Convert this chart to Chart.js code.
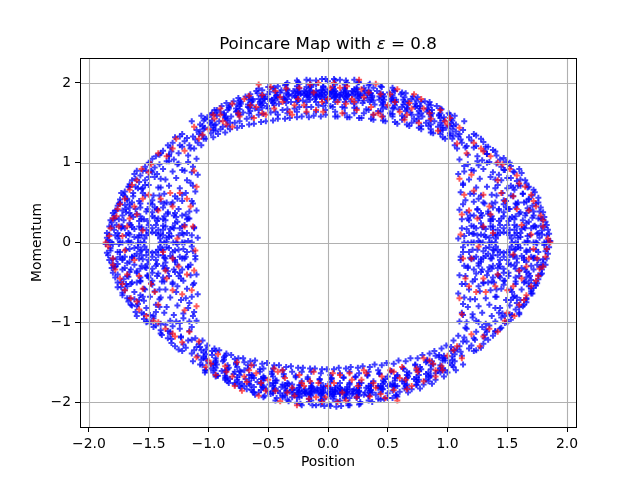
<!DOCTYPE html>
<html>
<head>
<meta charset="utf-8">
<title>Poincare Map</title>
<script src="https://cdn.jsdelivr.net/npm/chart.js@4/dist/chart.umd.min.js"></script>
<style>
  html, body { margin: 0; padding: 0; background: #fff; }
  canvas { display: block; }
</style>
</head>
<body>
<canvas id="poincareChart" width="640" height="480"></canvas>
<script>
// 軸刻度
const xTicks = [-2.0, -1.5, -1.0, -0.5, 0.0, 0.5, 1.0, 1.5, 2.0];
const yTicks = [-2, -1, 0, 1, 2];

// 上方帶狀區 (藍)
const topBandBlue = [
  [-1.12,1.18],[-1.09,1.25],[-1.13,1.33],[-1.1,1.41],[-1.07,1.48],[-1.14,1.52],[-1.08,1.36],[-1.11,1.29],
  [-1.02,1.3],[-0.98,1.37],[-1.03,1.44],[-0.99,1.5],[-1.01,1.57],[-0.97,1.62],[-1.04,1.53],[-0.96,1.41],
  [-0.92,1.36],[-0.88,1.45],[-0.91,1.52],[-0.87,1.6],[-0.93,1.66],[-0.89,1.71],[-0.86,1.56],[-0.94,1.48],
  [-0.82,1.42],[-0.78,1.5],[-0.81,1.58],[-0.77,1.64],[-0.83,1.7],[-0.79,1.77],[-0.76,1.73],[-0.84,1.55],
  [-0.72,1.46],[-0.68,1.55],[-0.71,1.63],[-0.67,1.7],[-0.73,1.76],[-0.69,1.83],[-0.66,1.79],[-0.74,1.67],
  [-0.62,1.49],[-0.58,1.6],[-0.61,1.68],[-0.57,1.74],[-0.63,1.8],[-0.59,1.87],[-0.56,1.84],[-0.64,1.72],[-0.6,1.9],
  [-0.52,1.52],[-0.48,1.63],[-0.51,1.71],[-0.47,1.77],[-0.53,1.82],[-0.49,1.89],[-0.46,1.93],[-0.54,1.75],[-0.5,1.86],
  [-0.42,1.55],[-0.38,1.66],[-0.41,1.74],[-0.37,1.8],[-0.43,1.85],[-0.39,1.91],[-0.36,1.97],[-0.44,1.78],[-0.4,1.88],
  [-0.32,1.56],[-0.28,1.68],[-0.31,1.76],[-0.27,1.82],[-0.33,1.86],[-0.29,1.9],[-0.26,1.96],[-0.34,2.0],[-0.3,1.84],[-0.28,1.88],
  [-0.22,1.58],[-0.18,1.7],[-0.21,1.78],[-0.17,1.83],[-0.23,1.86],[-0.19,1.89],[-0.16,1.93],[-0.24,1.99],[-0.2,1.85],[-0.18,1.87],
  [-0.12,1.59],[-0.08,1.72],[-0.11,1.8],[-0.07,1.84],[-0.13,1.86],[-0.09,1.88],[-0.06,1.91],[-0.14,1.97],[-0.1,2.03],[-0.1,1.85],
  [-0.02,1.6],[0.02,1.71],[-0.01,1.79],[0.03,1.83],[-0.03,1.85],[0.01,1.87],[0.04,1.9],[-0.04,1.95],[0,2.02],[0.02,1.86],
  [0.08,1.58],[0.12,1.7],[0.09,1.79],[0.13,1.84],[0.07,1.86],[0.11,1.88],[0.14,1.92],[0.06,1.98],[0.1,2.04],[0.1,1.85],
  [0.18,1.57],[0.22,1.69],[0.19,1.77],[0.23,1.83],[0.17,1.86],[0.21,1.89],[0.24,1.94],[0.16,2.0],[0.2,1.85],
  [0.28,1.56],[0.32,1.67],[0.29,1.75],[0.33,1.81],[0.27,1.85],[0.31,1.9],[0.34,1.97],[0.26,2.01],[0.3,1.87],
  [0.38,1.54],[0.42,1.65],[0.39,1.73],[0.43,1.79],[0.37,1.84],[0.41,1.9],[0.44,1.96],[0.36,1.87],
  [0.48,1.52],[0.52,1.62],[0.49,1.7],[0.53,1.77],[0.47,1.83],[0.51,1.88],[0.54,1.94],[0.46,1.74],
  [0.58,1.49],[0.62,1.59],[0.59,1.67],[0.63,1.73],[0.57,1.79],[0.61,1.86],[0.64,1.82],[0.56,1.9],
  [0.68,1.46],[0.72,1.55],[0.69,1.63],[0.73,1.7],[0.67,1.77],[0.71,1.83],[0.74,1.78],[0.66,1.67],
  [0.78,1.42],[0.82,1.5],[0.79,1.58],[0.83,1.64],[0.77,1.71],[0.81,1.77],[0.84,1.73],[0.76,1.55],
  [0.88,1.37],[0.92,1.45],[0.89,1.52],[0.93,1.6],[0.87,1.66],[0.91,1.71],[0.94,1.56],[0.86,1.48],
  [0.98,1.3],[1.02,1.37],[0.99,1.44],[1.03,1.5],[0.97,1.57],[1.01,1.62],[1.04,1.53],[0.96,1.41],
  [1.08,1.18],[1.12,1.25],[1.09,1.33],[1.13,1.41],[1.07,1.48],[1.14,1.52],[1.1,1.36],[1.11,1.29],
  [-0.25,1.87],[-0.15,1.88],[-0.05,1.87],[0.05,1.88],[0.15,1.87],[0.25,1.86],[-0.2,1.9],[0,1.89],[0.2,1.9],[-0.1,1.84],[0.1,1.83]
];
const topFillBlue = [
  [-1.06,1.22],[-1.04,1.3],[-1.07,1.39],[-1.05,1.46],[-1.03,1.55],[-1.06,1.59],[-1.05,1.34],[-1.04,1.42],
  [-0.96,1.32],[-0.94,1.4],[-0.95,1.47],[-0.97,1.53],[-0.93,1.59],[-0.95,1.66],[-0.96,1.44],[-0.94,1.62],
  [-0.86,1.38],[-0.84,1.46],[-0.85,1.53],[-0.87,1.62],[-0.83,1.68],[-0.85,1.75],[-0.86,1.58],[-0.84,1.66],
  [-0.76,1.44],[-0.74,1.52],[-0.75,1.6],[-0.77,1.68],[-0.73,1.74],[-0.75,1.81],[-0.76,1.65],[-0.74,1.71],
  [-0.66,1.48],[-0.64,1.57],[-0.65,1.65],[-0.67,1.73],[-0.63,1.78],[-0.65,1.86],[-0.66,1.69],[-0.64,1.76],
  [-0.56,1.51],[-0.54,1.61],[-0.55,1.69],[-0.57,1.76],[-0.53,1.8],[-0.55,1.91],[-0.56,1.72],[-0.54,1.84],[-0.55,1.78],
  [-0.46,1.53],[-0.44,1.64],[-0.45,1.72],[-0.47,1.79],[-0.43,1.83],[-0.45,1.94],[-0.46,1.75],[-0.44,1.88],[-0.45,1.81],
  [-0.36,1.55],[-0.34,1.67],[-0.35,1.75],[-0.37,1.82],[-0.33,1.85],[-0.35,1.98],[-0.36,1.79],[-0.34,1.91],[-0.35,1.87],
  [-0.26,1.57],[-0.24,1.7],[-0.25,1.78],[-0.27,1.84],[-0.23,1.87],[-0.25,2.01],[-0.26,1.81],[-0.24,1.93],[-0.25,1.89],
  [-0.16,1.57],[-0.14,1.7],[-0.15,1.79],[-0.17,1.85],[-0.13,1.88],[-0.15,2.03],[-0.16,1.82],[-0.14,1.95],[-0.15,1.9],
  [-0.06,1.58],[-0.04,1.71],[-0.05,1.8],[-0.07,1.86],[-0.03,1.88],[-0.05,2.05],[-0.06,1.83],[-0.04,1.96],[-0.05,1.91],
  [0.06,1.58],[0.04,1.7],[0.05,1.81],[0.07,1.86],[0.03,1.89],[0.05,2.05],[0.06,1.84],[0.04,1.95],[0.05,1.92],
  [0.16,1.57],[0.14,1.69],[0.15,1.8],[0.17,1.85],[0.13,1.88],[0.15,2.03],[0.16,1.83],[0.14,1.94],[0.15,1.9],
  [0.26,1.56],[0.24,1.68],[0.25,1.78],[0.27,1.84],[0.23,1.87],[0.25,2.01],[0.26,1.81],[0.24,1.92],[0.25,1.89],
  [0.36,1.55],[0.34,1.66],[0.35,1.76],[0.37,1.82],[0.33,1.85],[0.35,1.99],[0.36,1.79],[0.34,1.91],[0.35,1.87],
  [0.46,1.53],[0.44,1.64],[0.45,1.72],[0.47,1.79],[0.43,1.83],[0.45,1.95],[0.46,1.76],[0.44,1.87],[0.45,1.81],
  [0.56,1.51],[0.54,1.61],[0.55,1.69],[0.57,1.76],[0.53,1.8],[0.55,1.91],[0.56,1.72],[0.54,1.85],[0.55,1.78],
  [0.66,1.48],[0.64,1.57],[0.65,1.65],[0.67,1.73],[0.63,1.79],[0.65,1.87],[0.66,1.69],[0.64,1.76],
  [0.76,1.44],[0.74,1.52],[0.75,1.6],[0.77,1.68],[0.73,1.74],[0.75,1.82],[0.76,1.65],[0.74,1.71],
  [0.86,1.38],[0.84,1.46],[0.85,1.53],[0.87,1.62],[0.83,1.68],[0.85,1.76],[0.86,1.58],[0.84,1.66],
  [0.96,1.32],[0.94,1.4],[0.95,1.47],[0.97,1.53],[0.93,1.59],[0.95,1.67],[0.96,1.44],[0.94,1.62],
  [1.06,1.22],[1.04,1.3],[1.07,1.39],[1.05,1.46],[1.03,1.55],[1.06,1.59],[1.05,1.34],[1.04,1.42]
];
const topDenseBlue = [
  [-0.98,1.48],[-0.98,1.6],[-0.9,1.42],[-0.9,1.64],[-0.82,1.5],[-0.82,1.72],[-0.74,1.6],[-0.74,1.78],[-0.66,1.62],[-0.66,1.82],
  [-0.58,1.66],[-0.58,1.8],[-0.58,1.93],[-0.5,1.68],[-0.5,1.8],[-0.5,1.95],[-0.42,1.6],[-0.42,1.82],[-0.42,1.96],
  [-0.34,1.62],[-0.34,1.8],[-0.34,1.92],[-0.26,1.64],[-0.26,1.76],[-0.26,1.92],[-0.26,2.03],[-0.18,1.62],[-0.18,1.76],[-0.18,1.84],[-0.18,1.95],[-0.18,2.04],
  [-0.1,1.64],[-0.1,1.76],[-0.1,1.82],[-0.1,1.9],[-0.1,1.98],[-0.02,1.66],[-0.02,1.75],[-0.02,1.82],[-0.02,1.92],[-0.02,2.05],
  [0.06,1.64],[0.06,1.76],[0.06,1.82],[0.06,1.9],[0.06,2.03],[0.14,1.62],[0.14,1.76],[0.14,1.82],[0.14,1.98],
  [0.22,1.62],[0.22,1.74],[0.22,1.92],[0.22,2.04],[0.3,1.62],[0.3,1.78],[0.3,1.94],[0.38,1.6],[0.38,1.78],[0.38,1.94],
  [0.46,1.58],[0.46,1.68],[0.46,1.86],[0.54,1.58],[0.54,1.68],[0.54,1.82],[0.62,1.54],[0.62,1.7],[0.62,1.88],[0.7,1.5],[0.7,1.6],[0.7,1.8],
  [0.78,1.46],[0.78,1.62],[0.78,1.76],[0.86,1.42],[0.86,1.6],[0.86,1.72],[0.94,1.36],[0.94,1.5],[0.94,1.68],[1.02,1.34],[1.02,1.46],[1.02,1.6]
];

// 下方帶狀區 (藍)
const bottomBandBlue = [
  [-1.11,-1.2],[-1.08,-1.27],[-1.12,-1.35],[-1.09,-1.42],[-1.13,-1.49],[-1.07,-1.53],[-1.1,-1.31],[-1.14,-1.39],
  [-1.01,-1.29],[-0.97,-1.36],[-1.04,-1.45],[-1.0,-1.51],[-0.98,-1.58],[-1.03,-1.63],[-0.96,-1.52],[-1.02,-1.4],
  [-0.91,-1.35],[-0.87,-1.44],[-0.93,-1.53],[-0.89,-1.61],[-0.92,-1.67],[-0.86,-1.7],[-0.94,-1.57],[-0.88,-1.49],
  [-0.81,-1.41],[-0.77,-1.51],[-0.83,-1.57],[-0.79,-1.65],[-0.82,-1.71],[-0.78,-1.78],[-0.84,-1.74],[-0.76,-1.56],
  [-0.71,-1.45],[-0.67,-1.54],[-0.73,-1.62],[-0.69,-1.71],[-0.72,-1.77],[-0.68,-1.84],[-0.74,-1.8],[-0.66,-1.66],
  [-0.61,-1.48],[-0.57,-1.59],[-0.63,-1.67],[-0.59,-1.75],[-0.62,-1.81],[-0.58,-1.88],[-0.64,-1.85],[-0.56,-1.71],[-0.61,-1.91],
  [-0.51,-1.51],[-0.47,-1.62],[-0.53,-1.7],[-0.49,-1.78],[-0.52,-1.83],[-0.48,-1.9],[-0.54,-1.94],[-0.46,-1.76],[-0.5,-1.87],
  [-0.41,-1.54],[-0.37,-1.65],[-0.43,-1.73],[-0.39,-1.81],[-0.42,-1.86],[-0.38,-1.92],[-0.44,-1.98],[-0.36,-1.79],[-0.4,-1.89],
  [-0.31,-1.55],[-0.27,-1.67],[-0.33,-1.77],[-0.29,-1.83],[-0.32,-1.87],[-0.28,-1.91],[-0.34,-1.97],[-0.26,-2.01],[-0.3,-1.85],[-0.29,-1.89],
  [-0.21,-1.57],[-0.17,-1.69],[-0.23,-1.79],[-0.19,-1.84],[-0.22,-1.87],[-0.18,-1.9],[-0.24,-1.94],[-0.16,-2.0],[-0.2,-1.86],[-0.19,-1.88],
  [-0.11,-1.58],[-0.07,-1.71],[-0.13,-1.81],[-0.09,-1.85],[-0.12,-1.87],[-0.08,-1.89],[-0.14,-1.92],[-0.06,-1.98],[-0.1,-2.04],[-0.11,-1.86],
  [-0.01,-1.59],[0.03,-1.7],[-0.02,-1.8],[0.02,-1.84],[-0.04,-1.86],[0.0,-1.88],[0.04,-1.91],[-0.03,-1.96],[0.01,-2.03],[0.03,-1.87],
  [0.09,-1.57],[0.13,-1.69],[0.08,-1.8],[0.12,-1.85],[0.06,-1.87],[0.1,-1.89],[0.14,-1.93],[0.07,-1.99],[0.11,-2.05],[0.09,-1.86],
  [0.19,-1.56],[0.23,-1.68],[0.18,-1.78],[0.22,-1.84],[0.16,-1.87],[0.2,-1.9],[0.24,-1.95],[0.17,-2.01],[0.21,-1.86],
  [0.29,-1.55],[0.33,-1.66],[0.28,-1.76],[0.32,-1.82],[0.26,-1.86],[0.3,-1.91],[0.34,-1.98],[0.27,-2.0],[0.31,-1.88],
  [0.39,-1.53],[0.43,-1.64],[0.38,-1.74],[0.42,-1.8],[0.36,-1.85],[0.4,-1.91],[0.44,-1.97],[0.37,-1.88],
  [0.49,-1.51],[0.53,-1.61],[0.48,-1.71],[0.52,-1.78],[0.46,-1.84],[0.5,-1.89],[0.54,-1.95],[0.47,-1.75],
  [0.59,-1.48],[0.63,-1.58],[0.58,-1.68],[0.62,-1.74],[0.56,-1.8],[0.6,-1.87],[0.64,-1.83],[0.57,-1.91],
  [0.69,-1.45],[0.73,-1.54],[0.68,-1.64],[0.72,-1.71],[0.66,-1.78],[0.7,-1.84],[0.74,-1.79],[0.67,-1.68],
  [0.79,-1.41],[0.83,-1.49],[0.78,-1.59],[0.82,-1.65],[0.76,-1.72],[0.8,-1.78],[0.84,-1.74],[0.77,-1.56],
  [0.89,-1.36],[0.93,-1.44],[0.88,-1.53],[0.92,-1.61],[0.86,-1.67],[0.9,-1.72],[0.94,-1.57],[0.87,-1.49],
  [0.99,-1.29],[1.03,-1.36],[0.98,-1.45],[1.02,-1.51],[0.96,-1.58],[1.0,-1.63],[1.04,-1.54],[0.97,-1.42],
  [1.09,-1.17],[1.13,-1.24],[1.08,-1.34],[1.12,-1.42],[1.06,-1.49],[1.13,-1.53],[1.11,-1.37],[1.1,-1.3],
  [-0.24,-1.86],[-0.14,-1.87],[-0.04,-1.88],[0.06,-1.87],[0.16,-1.88],[0.26,-1.87],[-0.19,-1.89],[0.01,-1.9],[0.21,-1.89],[-0.09,-1.83],[0.11,-1.84]
];
const bottomFillBlue = [
  [-1.05,-1.23],[-1.07,-1.31],[-1.04,-1.38],[-1.06,-1.47],[-1.05,-1.54],[-1.03,-1.6],[-1.06,-1.35],[-1.04,-1.43],
  [-0.95,-1.33],[-0.97,-1.41],[-0.94,-1.48],[-0.96,-1.54],[-0.95,-1.6],[-0.93,-1.67],[-0.94,-1.45],[-0.96,-1.63],
  [-0.85,-1.39],[-0.87,-1.47],[-0.84,-1.54],[-0.86,-1.63],[-0.85,-1.69],[-0.83,-1.76],[-0.84,-1.59],[-0.86,-1.67],
  [-0.75,-1.45],[-0.77,-1.53],[-0.74,-1.61],[-0.76,-1.69],[-0.75,-1.75],[-0.73,-1.82],[-0.74,-1.66],[-0.76,-1.72],
  [-0.65,-1.49],[-0.67,-1.58],[-0.64,-1.66],[-0.66,-1.74],[-0.65,-1.79],[-0.63,-1.87],[-0.64,-1.7],[-0.66,-1.77],
  [-0.55,-1.52],[-0.57,-1.62],[-0.54,-1.7],[-0.56,-1.77],[-0.55,-1.81],[-0.53,-1.92],[-0.54,-1.73],[-0.56,-1.85],[-0.55,-1.79],
  [-0.45,-1.54],[-0.47,-1.65],[-0.44,-1.73],[-0.46,-1.8],[-0.45,-1.84],[-0.43,-1.95],[-0.44,-1.76],[-0.46,-1.89],[-0.45,-1.82],
  [-0.35,-1.56],[-0.37,-1.68],[-0.34,-1.76],[-0.36,-1.83],[-0.35,-1.86],[-0.33,-1.99],[-0.34,-1.8],[-0.36,-1.92],[-0.35,-1.88],
  [-0.25,-1.57],[-0.27,-1.69],[-0.24,-1.79],[-0.26,-1.85],[-0.25,-1.88],[-0.23,-2.02],[-0.24,-1.82],[-0.26,-1.94],[-0.25,-1.9],
  [-0.15,-1.58],[-0.17,-1.71],[-0.14,-1.8],[-0.16,-1.86],[-0.15,-1.89],[-0.13,-2.04],[-0.14,-1.83],[-0.16,-1.96],[-0.15,-1.91],
  [-0.05,-1.59],[-0.07,-1.72],[-0.04,-1.81],[-0.06,-1.87],[-0.05,-1.89],[-0.03,-2.05],[-0.04,-1.84],[-0.06,-1.97],[-0.05,-1.92],
  [0.05,-1.59],[0.03,-1.71],[0.06,-1.82],[0.04,-1.87],[0.05,-1.9],[0.07,-2.06],[0.06,-1.85],[0.04,-1.96],[0.05,-1.93],
  [0.15,-1.58],[0.13,-1.7],[0.16,-1.81],[0.14,-1.86],[0.15,-1.89],[0.17,-2.04],[0.16,-1.84],[0.14,-1.95],[0.15,-1.91],
  [0.25,-1.57],[0.23,-1.69],[0.26,-1.79],[0.24,-1.85],[0.25,-1.88],[0.27,-2.02],[0.26,-1.82],[0.24,-1.93],[0.25,-1.9],
  [0.35,-1.56],[0.33,-1.67],[0.36,-1.77],[0.34,-1.83],[0.35,-1.86],[0.37,-2.0],[0.36,-1.8],[0.34,-1.92],[0.35,-1.88],
  [0.45,-1.54],[0.43,-1.65],[0.46,-1.73],[0.44,-1.8],[0.45,-1.84],[0.47,-1.96],[0.46,-1.77],[0.44,-1.88],[0.45,-1.82],
  [0.55,-1.52],[0.53,-1.62],[0.56,-1.7],[0.54,-1.77],[0.55,-1.81],[0.57,-1.92],[0.56,-1.73],[0.54,-1.86],[0.55,-1.79],
  [0.65,-1.49],[0.63,-1.58],[0.66,-1.66],[0.64,-1.74],[0.65,-1.8],[0.67,-1.88],[0.66,-1.7],[0.64,-1.77],
  [0.75,-1.45],[0.73,-1.53],[0.76,-1.61],[0.74,-1.69],[0.75,-1.75],[0.77,-1.83],[0.76,-1.66],[0.74,-1.72],
  [0.85,-1.39],[0.83,-1.47],[0.86,-1.54],[0.84,-1.63],[0.85,-1.69],[0.87,-1.77],[0.86,-1.59],[0.84,-1.67],
  [0.95,-1.33],[0.93,-1.41],[0.96,-1.48],[0.94,-1.54],[0.95,-1.6],[0.97,-1.68],[0.96,-1.45],[0.94,-1.63],
  [1.05,-1.23],[1.03,-1.31],[1.06,-1.4],[1.04,-1.47],[1.05,-1.56],[1.07,-1.6],[1.06,-1.35],[1.04,-1.43]
];
const bottomDenseBlue = [
  [0.98,-1.48],[0.98,-1.6],[0.9,-1.42],[0.9,-1.64],[0.82,-1.5],[0.82,-1.72],[0.74,-1.6],[0.74,-1.78],[0.66,-1.62],[0.66,-1.82],
  [0.58,-1.66],[0.58,-1.8],[0.58,-1.93],[0.5,-1.68],[0.5,-1.8],[0.5,-1.95],[0.42,-1.6],[0.42,-1.82],[0.42,-1.96],
  [0.34,-1.62],[0.34,-1.8],[0.34,-1.92],[0.26,-1.64],[0.26,-1.76],[0.26,-1.92],[0.26,-2.03],[0.18,-1.62],[0.18,-1.76],[0.18,-1.84],[0.18,-1.95],[0.18,-2.04],
  [0.1,-1.64],[0.1,-1.76],[0.1,-1.82],[0.1,-1.9],[0.1,-1.98],[0.02,-1.66],[0.02,-1.75],[0.02,-1.82],[0.02,-1.92],[0.02,-2.05],
  [-0.06,-1.64],[-0.06,-1.76],[-0.06,-1.82],[-0.06,-1.9],[-0.06,-2.03],[-0.14,-1.62],[-0.14,-1.76],[-0.14,-1.82],[-0.14,-1.98],
  [-0.22,-1.62],[-0.22,-1.74],[-0.22,-1.92],[-0.22,-2.04],[-0.3,-1.62],[-0.3,-1.78],[-0.3,-1.94],[-0.38,-1.6],[-0.38,-1.78],[-0.38,-1.94],
  [-0.46,-1.58],[-0.46,-1.68],[-0.46,-1.86],[-0.54,-1.58],[-0.54,-1.68],[-0.54,-1.82],[-0.62,-1.54],[-0.62,-1.7],[-0.62,-1.88],[-0.7,-1.5],[-0.7,-1.6],[-0.7,-1.8],
  [-0.78,-1.46],[-0.78,-1.62],[-0.78,-1.76],[-0.86,-1.42],[-0.86,-1.6],[-0.86,-1.72],[-0.94,-1.36],[-0.94,-1.5],[-0.94,-1.68],[-1.02,-1.34],[-1.02,-1.46],[-1.02,-1.6]
];

// 左右外側弧帶 (藍)
const leftArcBlue = [
  [-1.24,1.33],[-1.2,1.27],[-1.16,1.22],[-1.22,1.2],[-1.18,1.31],[-1.3,1.25],
  [-1.38,1.15],[-1.33,1.1],[-1.29,1.04],[-1.35,1.02],[-1.31,1.14],[-1.26,0.98],[-1.47,1.05],
  [-1.53,0.95],[-1.48,0.9],[-1.43,0.86],[-1.5,0.82],[-1.45,0.94],[-1.4,0.8],[-1.62,0.86],
  [-1.66,0.73],[-1.61,0.7],[-1.56,0.67],[-1.63,0.62],[-1.58,0.76],[-1.53,0.72],[-1.73,0.62],
  [-1.75,0.49],[-1.7,0.47],[-1.66,0.44],[-1.72,0.4],[-1.68,0.53],[-1.8,0.37],
  [-1.81,0.25],[-1.77,0.22],[-1.73,0.2],[-1.79,0.16],[-1.75,0.29],[-1.85,0.12],
  [-1.84,0.03],[-1.8,-0.02],[-1.76,0.05],[-1.82,-0.07],[-1.78,0.09],[-1.85,-0.13],
  [-1.81,-0.26],[-1.77,-0.21],[-1.74,-0.18],[-1.79,-0.31],[-1.76,-0.27],[-1.8,-0.38],
  [-1.76,-0.5],[-1.71,-0.46],[-1.67,-0.43],[-1.73,-0.56],[-1.69,-0.52],[-1.72,-0.63],
  [-1.67,-0.74],[-1.62,-0.71],[-1.57,-0.66],[-1.64,-0.79],[-1.59,-0.77],[-1.54,-0.73],[-1.61,-0.87],
  [-1.54,-0.96],[-1.49,-0.91],[-1.44,-0.87],[-1.51,-0.99],[-1.46,-0.95],[-1.41,-0.81],[-1.46,-1.06],
  [-1.39,-1.16],[-1.34,-1.11],[-1.3,-1.05],[-1.36,-1.03],[-1.32,-1.15],[-1.27,-0.99],[-1.31,-1.26],
  [-1.25,-1.34],[-1.21,-1.28],[-1.17,-1.23],[-1.23,-1.19],[-1.19,-1.32]
];
const rightArcBlue = [
  [1.24,1.34],[1.2,1.28],[1.16,1.21],[1.22,1.19],[1.18,1.32],[1.3,1.26],
  [1.38,1.16],[1.33,1.11],[1.29,1.03],[1.35,1.01],[1.31,1.15],[1.26,0.97],[1.47,1.06],
  [1.53,0.96],[1.48,0.91],[1.43,0.85],[1.5,0.81],[1.45,0.95],[1.4,0.79],[1.62,0.87],
  [1.66,0.74],[1.61,0.71],[1.56,0.66],[1.63,0.61],[1.58,0.77],[1.53,0.71],[1.73,0.63],
  [1.76,0.5],[1.71,0.46],[1.67,0.43],[1.72,0.39],[1.68,0.54],[1.8,0.38],
  [1.82,0.26],[1.78,0.21],[1.74,0.19],[1.79,0.15],[1.76,0.3],[1.85,0.11],
  [1.85,0.02],[1.81,-0.03],[1.77,0.06],[1.83,-0.08],[1.79,0.1],[1.84,-0.14],
  [1.8,-0.25],[1.76,-0.22],[1.73,-0.19],[1.79,-0.3],[1.75,-0.28],[1.79,-0.39],
  [1.75,-0.51],[1.7,-0.47],[1.66,-0.44],[1.72,-0.57],[1.68,-0.51],[1.71,-0.64],
  [1.66,-0.75],[1.61,-0.72],[1.56,-0.67],[1.63,-0.8],[1.58,-0.76],[1.53,-0.72],[1.6,-0.88],
  [1.53,-0.97],[1.48,-0.92],[1.43,-0.88],[1.5,-1.0],[1.45,-0.94],[1.4,-0.82],[1.45,-1.07],
  [1.38,-1.17],[1.33,-1.12],[1.29,-1.06],[1.35,-1.04],[1.31,-1.16],[1.26,-1.0],[1.3,-1.27],
  [1.24,-1.35],[1.2,-1.29],[1.16,-1.24],[1.22,-1.2],[1.18,-1.33]
];
const leftOuterDense = [
  [-1.28,1.32],[-1.22,1.36],[-1.34,1.22],[-1.4,1.12],[-1.44,1.08],[-1.5,1.0],[-1.52,0.9],[-1.57,0.84],[-1.6,0.9],[-1.64,0.78],
  [-1.66,0.7],[-1.7,0.64],[-1.7,0.58],[-1.74,0.54],[-1.76,0.46],[-1.78,0.4],[-1.79,0.34],[-1.82,0.28],[-1.83,0.2],[-1.85,0.06],
  [-1.86,-0.02],[-1.84,-0.16],[-1.83,-0.22],[-1.81,-0.32],[-1.78,-0.44],[-1.76,-0.56],[-1.72,-0.66],[-1.68,-0.7],[-1.65,-0.78],
  [-1.6,-0.92],[-1.56,-0.88],[-1.52,-1.0],[-1.44,-1.04],[-1.4,-1.14],[-1.34,-1.2],[-1.28,-1.3],[-1.22,-1.36]
];
const rightOuterDense = [
  [1.28,-1.32],[1.22,-1.36],[1.34,-1.22],[1.4,-1.12],[1.44,-1.08],[1.5,-1.0],[1.52,-0.9],[1.57,-0.84],[1.6,-0.9],[1.64,-0.78],
  [1.66,-0.7],[1.7,-0.64],[1.7,-0.58],[1.74,-0.54],[1.76,-0.46],[1.78,-0.4],[1.79,-0.34],[1.82,-0.28],[1.83,-0.2],[1.85,-0.06],
  [1.86,0.02],[1.84,0.16],[1.83,0.22],[1.81,0.32],[1.78,0.44],[1.76,0.56],[1.72,0.66],[1.68,0.7],[1.65,0.78],
  [1.6,0.92],[1.56,0.88],[1.52,1.0],[1.44,1.04],[1.4,1.14],[1.34,1.2],[1.28,1.3],[1.22,1.36]
];

// 兩側填充 (藍)
const leftFillBlue = [
  [-1.32,1.19],[-1.24,1.22],[-1.15,1.18],
  [-1.41,1.1],[-1.33,1.08],[-1.25,1.12],[-1.17,1.09],
  [-1.49,1.0],[-1.41,0.98],[-1.33,1.02],[-1.25,0.99],[-1.17,1.01],
  [-1.55,0.9],[-1.47,0.88],[-1.38,0.92],[-1.3,0.89],[-1.22,0.91],[-1.14,0.88],
  [-1.61,0.8],[-1.53,0.78],[-1.45,0.82],[-1.36,0.79],[-1.27,0.81],[-1.18,0.78],
  [-1.67,0.7],[-1.59,0.68],[-1.5,0.72],[-1.42,0.69],[-1.33,0.71],[-1.24,0.68],[-1.13,0.71],
  [-1.71,0.6],[-1.63,0.58],[-1.55,0.62],[-1.46,0.59],[-1.37,0.61],[-1.28,0.58],[-1.19,0.62],
  [-1.74,0.5],[-1.66,0.48],[-1.58,0.52],[-1.49,0.49],[-1.4,0.51],[-1.31,0.48],[-1.22,0.52],[-1.13,0.49],
  [-1.77,0.4],[-1.69,0.38],[-1.61,0.42],[-1.52,0.39],[-1.43,0.41],[-1.34,0.38],[-1.25,0.42],[-1.16,0.39],
  [-1.79,0.3],[-1.71,0.28],[-1.63,0.32],[-1.54,0.29],[-1.45,0.31],[-1.36,0.28],[-1.27,0.32],[-1.18,0.29],
  [-1.81,0.2],[-1.73,0.18],[-1.65,0.22],[-1.56,0.19],[-1.38,0.21],[-1.29,0.18],[-1.2,0.22],[-1.12,0.19],
  [-1.83,0.1],[-1.75,0.08],[-1.67,0.12],[-1.58,0.09],[-1.4,0.11],[-1.31,0.08],[-1.22,0.12],[-1.14,0.09],
  [-1.83,0],[-1.75,-0.02],[-1.67,0.02],[-1.59,-0.01],[-1.35,0.01],[-1.26,-0.02],[-1.17,0.02],
  [-1.82,-0.1],[-1.74,-0.12],[-1.66,-0.08],[-1.57,-0.11],[-1.39,-0.09],[-1.3,-0.12],[-1.21,-0.08],[-1.13,-0.11],
  [-1.8,-0.2],[-1.72,-0.22],[-1.64,-0.18],[-1.55,-0.21],[-1.37,-0.19],[-1.28,-0.22],[-1.19,-0.18],[-1.11,-0.21],
  [-1.78,-0.3],[-1.7,-0.32],[-1.62,-0.28],[-1.53,-0.31],[-1.44,-0.29],[-1.35,-0.32],[-1.26,-0.28],[-1.17,-0.31],
  [-1.76,-0.4],[-1.68,-0.42],[-1.6,-0.38],[-1.51,-0.41],[-1.42,-0.39],[-1.33,-0.42],[-1.24,-0.38],[-1.15,-0.41],
  [-1.73,-0.5],[-1.65,-0.52],[-1.57,-0.48],[-1.48,-0.51],[-1.39,-0.49],[-1.3,-0.52],[-1.21,-0.48],[-1.12,-0.51],
  [-1.7,-0.6],[-1.62,-0.62],[-1.54,-0.58],[-1.45,-0.61],[-1.36,-0.59],[-1.27,-0.62],[-1.18,-0.58],
  [-1.66,-0.7],[-1.58,-0.72],[-1.49,-0.68],[-1.41,-0.71],[-1.32,-0.69],[-1.23,-0.72],[-1.14,-0.68],
  [-1.6,-0.8],[-1.52,-0.82],[-1.44,-0.78],[-1.35,-0.81],[-1.26,-0.79],[-1.17,-0.82],
  [-1.54,-0.9],[-1.46,-0.92],[-1.37,-0.88],[-1.29,-0.91],[-1.21,-0.89],[-1.13,-0.92],
  [-1.48,-1.0],[-1.4,-1.02],[-1.32,-0.98],[-1.24,-1.01],[-1.16,-0.99],
  [-1.4,-1.1],[-1.32,-1.12],[-1.24,-1.08],[-1.16,-1.11],
  [-1.31,-1.21],[-1.23,-1.18],[-1.14,-1.22]
];
const rightFillBlue = [
  [1.32,1.2],[1.24,1.21],[1.15,1.19],
  [1.41,1.09],[1.33,1.11],[1.25,1.08],[1.17,1.1],
  [1.49,1.01],[1.41,0.99],[1.33,1.0],[1.25,1.02],[1.17,0.98],
  [1.55,0.89],[1.47,0.91],[1.38,0.88],[1.3,0.92],[1.22,0.9],[1.14,0.89],
  [1.61,0.79],[1.53,0.81],[1.45,0.78],[1.36,0.82],[1.27,0.8],[1.18,0.79],
  [1.67,0.69],[1.59,0.71],[1.5,0.68],[1.42,0.72],[1.33,0.7],[1.24,0.69],[1.13,0.72],
  [1.71,0.59],[1.63,0.61],[1.55,0.58],[1.46,0.62],[1.37,0.6],[1.28,0.59],[1.19,0.61],
  [1.74,0.49],[1.66,0.51],[1.58,0.48],[1.49,0.52],[1.4,0.5],[1.31,0.49],[1.22,0.51],[1.13,0.48],
  [1.77,0.39],[1.69,0.41],[1.61,0.38],[1.52,0.42],[1.43,0.4],[1.34,0.39],[1.25,0.41],[1.16,0.38],
  [1.79,0.29],[1.71,0.31],[1.63,0.28],[1.54,0.32],[1.45,0.3],[1.36,0.29],[1.27,0.31],[1.18,0.28],
  [1.81,0.19],[1.73,0.21],[1.65,0.18],[1.56,0.22],[1.38,0.2],[1.29,0.19],[1.2,0.21],[1.12,0.18],
  [1.83,0.09],[1.75,0.11],[1.67,0.08],[1.58,0.12],[1.4,0.1],[1.31,0.09],[1.22,0.11],[1.14,0.08],
  [1.83,0.01],[1.75,-0.01],[1.67,0.02],[1.59,-0.02],[1.35,0],[1.26,0.02],[1.17,-0.01],
  [1.82,-0.11],[1.74,-0.09],[1.66,-0.12],[1.57,-0.08],[1.39,-0.1],[1.3,-0.11],[1.21,-0.09],[1.13,-0.12],
  [1.8,-0.21],[1.72,-0.19],[1.64,-0.22],[1.55,-0.18],[1.37,-0.2],[1.28,-0.21],[1.19,-0.19],[1.11,-0.22],
  [1.78,-0.31],[1.7,-0.29],[1.62,-0.32],[1.53,-0.28],[1.44,-0.3],[1.35,-0.31],[1.26,-0.29],[1.17,-0.32],
  [1.76,-0.41],[1.68,-0.39],[1.6,-0.42],[1.51,-0.38],[1.42,-0.4],[1.33,-0.41],[1.24,-0.39],[1.15,-0.42],
  [1.73,-0.51],[1.65,-0.49],[1.57,-0.52],[1.48,-0.48],[1.39,-0.5],[1.3,-0.51],[1.21,-0.49],[1.12,-0.52],
  [1.7,-0.61],[1.62,-0.59],[1.54,-0.62],[1.45,-0.58],[1.36,-0.6],[1.27,-0.61],[1.18,-0.59],
  [1.66,-0.71],[1.58,-0.69],[1.49,-0.72],[1.41,-0.68],[1.32,-0.7],[1.23,-0.71],[1.14,-0.69],
  [1.6,-0.81],[1.52,-0.79],[1.44,-0.82],[1.35,-0.78],[1.26,-0.8],[1.17,-0.81],
  [1.54,-0.91],[1.46,-0.89],[1.37,-0.92],[1.29,-0.88],[1.21,-0.9],[1.13,-0.91],
  [1.48,-1.01],[1.4,-0.99],[1.32,-1.02],[1.24,-0.98],[1.16,-1.0],
  [1.4,-1.11],[1.32,-1.09],[1.24,-1.12],[1.16,-1.08],
  [1.31,-1.2],[1.23,-1.22],[1.14,-1.19]
];

// 內側直條 (藍)
const innerStripBlue = [
  [-1.1,1.05],[-1.13,0.95],[-1.09,0.85],[-1.15,0.75],[-1.11,0.64],[-1.14,0.52],[-1.1,0.4],[-1.16,0.3],[-1.12,0.18],[-1.09,0.06],
  [-1.14,-0.05],[-1.11,-0.17],[-1.15,-0.28],[-1.1,-0.4],[-1.13,-0.53],[-1.09,-0.65],[-1.16,-0.76],[-1.12,-0.87],[-1.1,-0.98],[-1.14,-1.06],
  [-1.2,0.9],[-1.22,0.6],[-1.19,0.35],[-1.21,0.1],[-1.2,-0.2],[-1.23,-0.45],[-1.19,-0.7],[-1.21,-0.95],
  [1.1,1.04],[1.14,0.96],[1.09,0.86],[1.13,0.74],[1.11,0.63],[1.15,0.53],[1.1,0.41],[1.12,0.29],[1.16,0.17],[1.09,0.05],
  [1.13,-0.06],[1.11,-0.18],[1.14,-0.29],[1.1,-0.41],[1.15,-0.52],[1.09,-0.64],[1.13,-0.77],[1.12,-0.88],[1.1,-0.99],[1.15,-1.07],
  [1.2,0.91],[1.22,0.61],[1.19,0.34],[1.21,0.11],[1.2,-0.21],[1.23,-0.46],[1.19,-0.71],[1.21,-0.94]
];

// 左島 (藍), 中心 (-1.47, 0) 留一個小空洞
const leftIslandBlue = [
  [-1.4,0],[-1.42,0.09],[-1.47,0.13],[-1.52,0.09],[-1.54,0],[-1.52,-0.09],[-1.47,-0.13],[-1.42,-0.09],
  [-1.37,0],[-1.38,0.09],[-1.42,0.16],[-1.47,0.18],[-1.52,0.16],[-1.56,0.09],[-1.57,0],[-1.56,-0.09],[-1.52,-0.16],[-1.47,-0.18],[-1.42,-0.16],[-1.38,-0.09],
  [-1.33,0.07],[-1.36,0.2],[-1.43,0.27],[-1.51,0.27],[-1.58,0.2],[-1.62,0.07],[-1.62,-0.07],[-1.58,-0.2],[-1.51,-0.27],[-1.43,-0.27],[-1.36,-0.2],[-1.33,-0.07],
  [-1.27,0],[-1.3,0.19],[-1.37,0.33],[-1.47,0.38],[-1.57,0.33],[-1.64,0.19],[-1.67,0],[-1.64,-0.19],[-1.57,-0.33],[-1.47,-0.38],[-1.37,-0.33],[-1.3,-0.19],
  [-1.22,0],[-1.24,0.18],[-1.29,0.34],[-1.38,0.44],[-1.47,0.48],[-1.57,0.44],[-1.65,0.34],[-1.7,0.18],[-1.72,0],[-1.7,-0.18],[-1.65,-0.34],[-1.57,-0.44],[-1.47,-0.48],[-1.38,-0.44],[-1.29,-0.34],[-1.24,-0.18],
  [-1.18,0.12],[-1.22,0.34],[-1.3,0.5],[-1.41,0.59],[-1.53,0.59],[-1.64,0.5],[-1.72,0.34],[-1.76,0.12],[-1.76,-0.12],[-1.72,-0.34],[-1.64,-0.5],[-1.53,-0.59],[-1.41,-0.59],[-1.3,-0.5],[-1.22,-0.34],[-1.18,-0.12],
  [-1.14,0],[-1.17,0.3],[-1.26,0.55],[-1.4,0.69],[-1.55,0.68],[-1.68,0.55],[-1.78,0.3],[-1.81,0],[-1.78,-0.3],[-1.68,-0.55],[-1.55,-0.68],[-1.4,-0.69],[-1.26,-0.55],[-1.17,-0.3],
  [-1.33,0.12],[-1.6,-0.14],[-1.42,0.3],[-1.52,-0.32],[-1.28,-0.1],[-1.66,0.1],[-1.36,-0.25],[-1.58,0.27],[-1.26,0.26],[-1.68,-0.26],[-1.45,0.44],[-1.5,-0.44],[-1.35,0.5],[-1.6,-0.5],[-1.25,-0.42],[-1.69,0.42]
];
const leftIslandCore = [
  [-1.405,0.05],[-1.44,0.12],[-1.5,0.12],[-1.535,0.05],[-1.535,-0.05],[-1.5,-0.12],[-1.44,-0.12],[-1.405,-0.05],
  [-1.35,0.06],[-1.38,0.16],[-1.44,0.22],[-1.5,0.22],[-1.56,0.16],[-1.59,0.06],[-1.59,-0.06],[-1.56,-0.16],[-1.5,-0.22],[-1.44,-0.22],[-1.38,-0.16],[-1.35,-0.06],
  [-1.295,0],[-1.32,0.17],[-1.38,0.29],[-1.47,0.33],[-1.56,0.29],[-1.62,0.17],[-1.645,0],[-1.62,-0.17],[-1.56,-0.29],[-1.47,-0.33],[-1.38,-0.29],[-1.32,-0.17],
  [-1.25,0.09],[-1.28,0.24],[-1.34,0.36],[-1.43,0.42],[-1.51,0.42],[-1.6,0.36],[-1.66,0.24],[-1.69,0.09],[-1.69,-0.09],[-1.66,-0.24],[-1.6,-0.36],[-1.51,-0.42],[-1.43,-0.42],[-1.34,-0.36],[-1.28,-0.24],[-1.25,-0.09],
  [-1.2,0],[-1.22,0.2],[-1.28,0.37],[-1.37,0.49],[-1.47,0.53],[-1.57,0.49],[-1.66,0.37],[-1.72,0.2],[-1.74,0],[-1.72,-0.2],[-1.66,-0.37],[-1.57,-0.49],[-1.47,-0.53],[-1.37,-0.49],[-1.28,-0.37],[-1.22,-0.2]
];

// 右島 (藍), 中心 (1.47, 0)
const rightIslandBlue = [
  [1.54,0],[1.52,0.09],[1.47,0.13],[1.42,0.09],[1.4,0],[1.42,-0.09],[1.47,-0.13],[1.52,-0.09],
  [1.57,0],[1.56,0.09],[1.52,0.16],[1.47,0.18],[1.42,0.16],[1.38,0.09],[1.37,0],[1.38,-0.09],[1.42,-0.16],[1.47,-0.18],[1.52,-0.16],[1.56,-0.09],
  [1.61,0.07],[1.58,0.2],[1.51,0.27],[1.43,0.27],[1.36,0.2],[1.32,0.07],[1.32,-0.07],[1.36,-0.2],[1.43,-0.27],[1.51,-0.27],[1.58,-0.2],[1.61,-0.07],
  [1.67,0],[1.64,0.19],[1.57,0.33],[1.47,0.38],[1.37,0.33],[1.3,0.19],[1.27,0],[1.3,-0.19],[1.37,-0.33],[1.47,-0.38],[1.57,-0.33],[1.64,-0.19],
  [1.72,0],[1.7,0.18],[1.65,0.34],[1.57,0.44],[1.47,0.48],[1.38,0.44],[1.29,0.34],[1.24,0.18],[1.22,0],[1.24,-0.18],[1.29,-0.34],[1.38,-0.44],[1.47,-0.48],[1.57,-0.44],[1.65,-0.34],[1.7,-0.18],
  [1.76,0.12],[1.72,0.34],[1.64,0.5],[1.53,0.59],[1.41,0.59],[1.3,0.5],[1.22,0.34],[1.18,0.12],[1.18,-0.12],[1.22,-0.34],[1.3,-0.5],[1.41,-0.59],[1.53,-0.59],[1.64,-0.5],[1.72,-0.34],[1.76,-0.12],
  [1.81,0],[1.78,0.3],[1.68,0.55],[1.55,0.69],[1.4,0.68],[1.26,0.55],[1.17,0.3],[1.14,0],[1.17,-0.3],[1.26,-0.55],[1.4,-0.68],[1.55,-0.69],[1.68,-0.55],[1.78,-0.3],
  [1.61,0.12],[1.34,-0.14],[1.52,0.3],[1.42,-0.32],[1.66,-0.1],[1.28,0.1],[1.58,-0.25],[1.36,0.27],[1.68,0.26],[1.26,-0.26],[1.49,0.44],[1.44,-0.44],[1.59,0.5],[1.34,-0.5],[1.69,-0.42],[1.25,0.42]
];
const rightIslandCore = [
  [1.535,0.05],[1.5,0.12],[1.44,0.12],[1.405,0.05],[1.405,-0.05],[1.44,-0.12],[1.5,-0.12],[1.535,-0.05],
  [1.59,0.06],[1.56,0.16],[1.5,0.22],[1.44,0.22],[1.38,0.16],[1.35,0.06],[1.35,-0.06],[1.38,-0.16],[1.44,-0.22],[1.5,-0.22],[1.56,-0.16],[1.59,-0.06],
  [1.645,0],[1.62,0.17],[1.56,0.29],[1.47,0.33],[1.38,0.29],[1.32,0.17],[1.295,0],[1.32,-0.17],[1.38,-0.29],[1.47,-0.33],[1.56,-0.29],[1.62,-0.17],
  [1.69,0.09],[1.66,0.24],[1.6,0.36],[1.51,0.42],[1.43,0.42],[1.34,0.36],[1.28,0.24],[1.25,0.09],[1.25,-0.09],[1.28,-0.24],[1.34,-0.36],[1.43,-0.42],[1.51,-0.42],[1.6,-0.36],[1.66,-0.24],[1.69,-0.09],
  [1.74,0],[1.72,0.2],[1.66,0.37],[1.57,0.49],[1.47,0.53],[1.37,0.49],[1.28,0.37],[1.22,0.2],[1.2,0],[1.22,-0.2],[1.28,-0.37],[1.37,-0.49],[1.47,-0.53],[1.57,-0.49],[1.66,-0.37],[1.72,-0.2]
];

// 紅色軌道點
const redPoints = [
  [-1.05,1.35],[-0.95,1.55],[-0.85,1.48],[-0.75,1.62],[-0.7,1.8],[-0.62,1.56],[-0.55,1.85],[-0.45,1.68],[-0.35,1.93],[-0.3,1.6],
  [-0.25,1.8],[-0.15,1.98],[-0.05,1.76],[0.05,2.0],[0.12,1.62],[0.2,1.8],[0.28,1.92],[0.36,1.7],[0.45,1.58],[0.52,1.86],
  [0.6,1.64],[0.68,1.75],[0.76,1.5],[0.85,1.62],[0.92,1.4],[1.0,1.48],[1.08,1.24],[-1.12,1.45],[-0.9,1.68],[0.4,1.99],
  [-0.48,1.95],[0.15,1.74],[-0.18,1.64],[0.72,1.86],
  [1.05,-1.35],[0.95,-1.55],[0.85,-1.48],[0.75,-1.62],[0.7,-1.8],[0.62,-1.56],[0.55,-1.85],[0.45,-1.68],[0.35,-1.93],[0.3,-1.6],
  [0.25,-1.8],[0.15,-1.98],[0.05,-1.76],[-0.05,-2.0],[-0.12,-1.62],[-0.2,-1.8],[-0.28,-1.92],[-0.36,-1.7],[-0.45,-1.58],[-0.52,-1.86],
  [-0.6,-1.64],[-0.68,-1.75],[-0.76,-1.5],[-0.85,-1.62],[-0.92,-1.4],[-1.0,-1.48],[-1.08,-1.24],[1.12,-1.45],[0.9,-1.68],[-0.4,-1.99],
  [0.48,-1.95],[-0.15,-1.74],[0.18,-1.64],[-0.72,-1.86],
  [-1.27,1.3],[-1.35,1.08],[-1.5,0.88],[-1.6,0.78],[-1.7,0.55],[-1.77,0.33],[-1.83,0.08],[-1.8,-0.2],[-1.74,-0.45],[-1.65,-0.7],
  [-1.52,-0.92],[-1.36,-1.08],[-1.22,-1.25],[-1.12,0.9],[-1.15,0.45],[-1.11,-0.1],[-1.14,-0.6],[-1.2,-0.85],[-1.75,0.2],[-1.7,-0.1],
  [-1.62,0.45],[-1.3,0.45],[-1.25,-0.3],[-1.58,-0.42],[-1.4,0.55],[-1.45,-0.62],[-1.66,0.3],[-1.35,-0.45],[-1.2,0.2],[-1.55,0.15],[-1.38,-0.12],
  [1.27,-1.3],[1.35,-1.08],[1.5,-0.88],[1.6,-0.78],[1.7,-0.55],[1.77,-0.33],[1.83,-0.08],[1.8,0.2],[1.74,0.45],[1.65,0.7],
  [1.52,0.92],[1.36,1.08],[1.22,1.25],[1.12,-0.9],[1.15,-0.45],[1.11,0.1],[1.14,0.6],[1.2,0.85],[1.75,-0.2],[1.7,0.1],
  [1.62,-0.45],[1.3,-0.45],[1.25,0.3],[1.58,0.42],[1.4,-0.55],[1.45,0.62],[1.66,-0.3],[1.35,0.45],[1.2,-0.2],[1.55,-0.15],[1.38,0.12]
];
const redExtra = [
  [-1.08,1.3],[-1.0,1.42],[-0.96,1.6],[-0.88,1.52],[-0.8,1.74],[-0.74,1.58],[-0.66,1.84],[-0.6,1.7],[-0.52,1.6],[-0.44,1.9],
  [-0.38,1.76],[-0.32,1.64],[-0.24,1.94],[-0.2,1.72],[-0.12,1.88],[-0.04,1.64],[0.02,1.94],[0.08,1.76],[0.16,1.96],[0.24,1.66],
  [0.3,1.82],[0.38,1.6],[0.44,1.86],[0.5,1.72],[0.58,1.92],[0.64,1.54],[0.7,1.68],[0.78,1.8],[0.86,1.55],[0.94,1.66],
  [1.02,1.56],[1.1,1.44],[-0.58,1.98],[0.26,2.04],[-0.08,2.0],
  [1.08,-1.3],[1.0,-1.42],[0.96,-1.6],[0.88,-1.52],[0.8,-1.74],[0.74,-1.58],[0.66,-1.84],[0.6,-1.7],[0.52,-1.6],[0.44,-1.9],
  [0.38,-1.76],[0.32,-1.64],[0.24,-1.94],[0.2,-1.72],[0.12,-1.88],[0.04,-1.64],[-0.02,-1.94],[-0.08,-1.76],[-0.16,-1.96],[-0.24,-1.66],
  [-0.3,-1.82],[-0.38,-1.6],[-0.44,-1.86],[-0.5,-1.72],[-0.58,-1.92],[-0.64,-1.54],[-0.7,-1.68],[-0.78,-1.8],[-0.86,-1.55],[-0.94,-1.66],
  [-1.02,-1.56],[-1.1,-1.44],[0.58,-1.98],[-0.26,-2.04],[0.08,-2.0],
  [-1.2,1.15],[-1.42,1.12],[-1.56,0.92],[-1.66,0.66],[-1.76,0.42],[-1.82,0.18],[-1.84,-0.05],[-1.78,-0.34],[-1.7,-0.6],[-1.58,-0.84],
  [-1.42,-1.0],[-1.28,-1.18],[-1.16,-1.12],[-1.1,0.7],[-1.13,0.2],[-1.12,-0.35],[-1.1,-0.8],[-1.32,0.62],[-1.55,0.55],[-1.72,0.08],
  [-1.62,-0.22],[-1.48,-0.52],[-1.3,-0.6],[-1.26,0.05],[-1.42,0.4],[-1.6,0.35],[-1.36,-0.35],[-1.18,0.55],[-1.22,-0.65],[-1.68,-0.4],
  [1.2,-1.15],[1.42,-1.12],[1.56,-0.92],[1.66,-0.66],[1.76,-0.42],[1.82,-0.18],[1.84,0.05],[1.78,0.34],[1.7,0.6],[1.58,0.84],
  [1.42,1.0],[1.28,1.18],[1.16,1.12],[1.1,-0.7],[1.13,-0.2],[1.12,0.35],[1.1,0.8],[1.32,-0.62],[1.55,-0.55],[1.72,-0.08],
  [1.62,0.22],[1.48,0.52],[1.3,0.6],[1.26,-0.05],[1.42,-0.4],[1.6,-0.35],[1.36,0.35],[1.18,-0.55],[1.22,0.65],[1.68,0.4]
];
const redMore = [
  [-0.9,1.6],[-0.8,1.45],[-0.65,1.72],[-0.55,1.62],[-0.4,1.82],[-0.28,1.72],[-0.1,1.66],[0.0,1.8],[0.1,1.94],[0.22,1.76],
  [0.34,1.88],[0.42,1.62],[0.56,1.76],[0.66,1.6],[0.8,1.68],[0.98,1.52],
  [0.9,-1.6],[0.8,-1.45],[0.65,-1.72],[0.55,-1.62],[0.4,-1.82],[0.28,-1.72],[0.1,-1.66],[0.0,-1.8],[-0.1,-1.94],[-0.22,-1.76],
  [-0.34,-1.88],[-0.42,-1.62],[-0.56,-1.76],[-0.66,-1.6],[-0.8,-1.68],[-0.98,-1.52],
  [-1.3,1.18],[-1.48,0.98],[-1.64,0.72],[-1.74,0.48],[-1.8,0.3],[-1.86,0.0],[-1.8,-0.28],[-1.72,-0.52],[-1.6,-0.74],[-1.46,-0.98],
  [-1.3,-1.14],[-1.68,0.2],[-1.3,-0.2],[-1.5,0.6],[-1.55,-0.58],[-1.24,0.62],[-1.18,-0.4],[-1.42,-0.78],
  [1.3,-1.18],[1.48,-0.98],[1.64,-0.72],[1.74,-0.48],[1.8,-0.3],[1.86,0.0],[1.8,0.28],[1.72,0.52],[1.6,0.74],[1.46,0.98],
  [1.3,1.14],[1.68,-0.2],[1.3,0.2],[1.5,-0.6],[1.55,0.58],[1.24,-0.62],[1.18,0.4],[1.42,0.78]
];

const FONT = '"DejaVu Sans", "Liberation Sans", sans-serif';

function toXY(list) {
  return list.map(p => ({ x: p[0], y: p[1] }));
}

function fmtTick(v, digits) {
  return v.toFixed(digits).replace('-', '\u2212');
}

const bluePoints = [
  ...topBandBlue, ...topFillBlue, ...topDenseBlue,
  ...bottomBandBlue, ...bottomFillBlue, ...bottomDenseBlue,
  ...leftArcBlue, ...rightArcBlue, ...leftOuterDense, ...rightOuterDense,
  ...leftFillBlue, ...rightFillBlue, ...innerStripBlue,
  ...leftIslandBlue, ...rightIslandBlue, ...leftIslandCore, ...rightIslandCore
];
const allRed = [...redPoints, ...redExtra, ...redMore];

// 網格、外框與文字 (格線畫在點的上方, 同 matplotlib)
const overlay = {
  id: 'overlay',
  afterDatasetsDraw(chart) {
    const { ctx, chartArea: a, scales } = chart;
    ctx.save();
    ctx.strokeStyle = '#b0b0b0';
    ctx.lineWidth = 1.1;
    scales.x.ticks.forEach(t => {
      const px = Math.round(scales.x.getPixelForValue(t.value)) + 0.5;
      ctx.beginPath();
      ctx.moveTo(px, a.top);
      ctx.lineTo(px, a.bottom);
      ctx.stroke();
    });
    scales.y.ticks.forEach(t => {
      const py = Math.round(scales.y.getPixelForValue(t.value)) + 0.5;
      ctx.beginPath();
      ctx.moveTo(a.left, py);
      ctx.lineTo(a.right, py);
      ctx.stroke();
    });
    ctx.strokeStyle = '#000';
    ctx.lineWidth = 1;
    ctx.strokeRect(Math.round(a.left) + 0.5, Math.round(a.top) + 0.5,
      Math.round(a.right - a.left), Math.round(a.bottom - a.top));
    ctx.restore();
  },
  afterDraw(chart) {
    const { ctx, chartArea: a } = chart;
    const cx = (a.left + a.right) / 2;
    ctx.save();
    ctx.fillStyle = '#000';
    ctx.textBaseline = 'alphabetic';

    // 標題
    const parts = [
      { t: 'Poincare Map with ', f: '16.7px ' + FONT },
      { t: '\u03b5', f: 'italic 16.7px ' + FONT },
      { t: ' = 0.8', f: '16.7px ' + FONT }
    ];
    let total = 0;
    parts.forEach(p => { ctx.font = p.f; p.w = ctx.measureText(p.t).width; total += p.w; });
    let x = cx - total / 2;
    ctx.textAlign = 'left';
    parts.forEach(p => { ctx.font = p.f; ctx.fillText(p.t, x, 49); x += p.w; });

    // 座標軸名稱
    ctx.font = '13.9px ' + FONT;
    ctx.textAlign = 'center';
    ctx.textBaseline = 'middle';
    ctx.fillText('Position', cx, 462);
    ctx.translate(37, (a.top + a.bottom) / 2);
    ctx.rotate(-Math.PI / 2);
    ctx.fillText('Momentum', 0, 0);
    ctx.restore();
  }
};

const ctx = document.getElementById('poincareChart');

new Chart(ctx, {
  type: 'scatter',
  data: {
    datasets: [
      {
        label: 'red',
        data: toXY(allRed),
        pointStyle: 'cross',
        pointRadius: 3,
        borderWidth: 2,
        borderColor: 'rgba(255, 0, 0, 0.65)',
        backgroundColor: 'rgba(255, 0, 0, 0.65)'
      },
      {
        label: 'blue',
        data: toXY(bluePoints),
        pointStyle: 'cross',
        pointRadius: 3,
        borderWidth: 2,
        borderColor: 'rgba(0, 0, 255, 0.75)',
        backgroundColor: 'rgba(0, 0, 255, 0.75)'
      }
    ]
  },
  options: {
    responsive: false,
    animation: false,
    devicePixelRatio: 1,
    layout: { padding: { top: 58, right: 64, left: 0, bottom: 0 } },
    plugins: {
      legend: { display: false },
      tooltip: { enabled: false }
    },
    scales: {
      x: {
        type: 'linear',
        min: -2.075,
        max: 2.075,
        afterBuildTicks: s => { s.ticks = xTicks.map(v => ({ value: v })); },
        afterFit: s => { s.height = 53; },
        ticks: {
          callback: v => fmtTick(v, 1),
          color: '#000',
          font: { family: FONT, size: 13.9 },
          padding: 4,
          maxRotation: 0,
          autoSkip: false
        },
        grid: { drawOnChartArea: false, tickLength: 5, tickColor: '#000', tickWidth: 1 },
        border: { color: '#000', width: 1 }
      },
      y: {
        type: 'linear',
        min: -2.313,
        max: 2.313,
        afterBuildTicks: s => { s.ticks = yTicks.map(v => ({ value: v })); },
        afterFit: s => { s.width = 80; },
        ticks: {
          callback: v => fmtTick(v, 0),
          color: '#000',
          font: { family: FONT, size: 13.9 },
          padding: 4,
          autoSkip: false
        },
        grid: { drawOnChartArea: false, tickLength: 5, tickColor: '#000', tickWidth: 1 },
        border: { color: '#000', width: 1 }
      }
    }
  },
  plugins: [overlay]
});
</script>
</body>
</html>
